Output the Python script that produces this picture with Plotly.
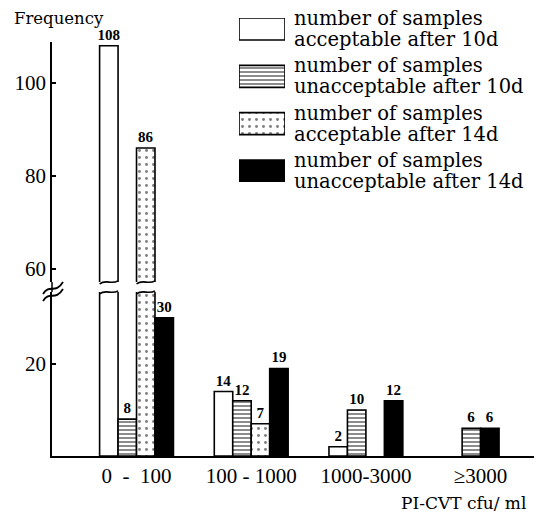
import plotly.graph_objects as go

# ---------------- data ----------------
categories = ["0 - 100", "100 - 1000", "1000-3000", "\u22653000"]
tick_labels = ["0 \u00a0-\u00a0 100", "100 - 1000", "1000-3000", "\u22653000"]
acceptable_10d = [108, 14, 2, 0]
unacceptable_10d = [8, 12, 10, 6]
acceptable_14d = [86, 7, 0, 0]
unacceptable_14d = [30, 19, 12, 6]
series_names = [
    "number of samples<br>acceptable after 10d",
    "number of samples<br>unacceptable after 10d",
    "number of samples<br>acceptable after 14d",
    "number of samples<br>unacceptable after 14d",
]
series_values = [acceptable_10d, unacceptable_10d, acceptable_14d, unacceptable_14d]
compact_categories = ["\u22653000"]  # drawn with only present bars, side by side
lower_ticks = [20]
upper_ticks = [60, 80, 100]

# ---------------- layout constants ----------------
# page has an 8px body margin; page coordinates are used in helpers below
OFF = 8
PAGE_W, PAGE_H = 542, 517
W, H = PAGE_W - OFF, PAGE_H - OFF
PLOT_L, PLOT_R, PLOT_T, PLOT_B = 52, 540, 18, 456  # page pixels
ML, MR, MT = PLOT_L - OFF, PAGE_W - PLOT_R, PLOT_T - OFF
MB = H - (PLOT_B - OFF)
PW, PH = PLOT_R - PLOT_L, PLOT_B - PLOT_T


def px_x(p):
    return (p - PLOT_L) / PW


def px_y(p):
    return (PLOT_B - p) / PH


LOW_RANGE = [0, 35.6]
UP_RANGE = [57.2, 108.8]
XMIN, XMAX = -0.737, 3.518
BAR_W = 0.161
LOW_DOMAIN = [0, px_y(292)]
UP_DOMAIN = [px_y(282), px_y(42)]

SERIF = "Liberation Serif, Times New Roman, serif"
LEG_FONT = "DejaVu Serif, serif"

markers = [
    dict(color="white", line=dict(color="black", width=1.6)),
    dict(color="white", line=dict(color="black", width=1.6),
         pattern=dict(shape="-", fgcolor="black", bgcolor="white", size=4, solidity=0.45)),
    dict(color="white", line=dict(color="black", width=1.6),
         pattern=dict(shape=".", fgcolor="black", bgcolor="white", size=7, solidity=0.14)),
    dict(color="black", line=dict(color="black", width=1.6)),
]

# offsets for each bar
offsets = [[0.0] * len(categories) for _ in series_values]
for i, cat in enumerate(categories):
    if cat in compact_categories:
        present = [k for k, vals in enumerate(series_values) if vals[i] > 0]
        for j, k in enumerate(present):
            offsets[k][i] = -len(present) * BAR_W / 2 + j * BAR_W
    else:
        n = len(series_values)
        for k in range(n):
            offsets[k][i] = -n * BAR_W / 2 + k * BAR_W

fig = go.Figure()
txtfont = dict(family=SERIF, size=15, color="black", weight="bold")
for k, vals in enumerate(series_values):
    low_y = [v if v > 0 else None for v in vals]
    low_t = [str(v) if 0 < v <= LOW_RANGE[1] else "" for v in vals]
    up_y = [v if v > LOW_RANGE[1] else None for v in vals]
    up_t = [str(v) if v > LOW_RANGE[1] else "" for v in vals]
    fig.add_trace(go.Bar(x=categories, y=low_y, width=BAR_W, offset=offsets[k],
                         marker=markers[k], text=low_t, textposition="outside",
                         textfont=txtfont, constraintext="none", cliponaxis=False,
                         xaxis="x", yaxis="y", showlegend=False, name=series_names[k]))
    fig.add_trace(go.Bar(x=categories, y=up_y, width=BAR_W, offset=offsets[k],
                         marker=markers[k], text=up_t, textposition="outside",
                         textfont=txtfont, constraintext="none", cliponaxis=False,
                         xaxis="x", yaxis="y2", showlegend=False, name=series_names[k]))

# ---------------- custom legend (swatches + text) ----------------
LEG_X = [px_x(239), px_x(285)]
LEG_Y = [px_y(182), px_y(18)]
LEG_BAR_H = 0.465
for k in range(len(series_values)):
    fig.add_trace(go.Bar(x=[1], y=[k], orientation="h", width=LEG_BAR_H,
                         marker=markers[k], xaxis="x2", yaxis="y3",
                         showlegend=False, hoverinfo="skip", name=series_names[k]))

leg_lo, leg_hi = len(series_values) - 1 + LEG_BAR_H / 2, -LEG_BAR_H / 2
annotations = []
for k, name in enumerate(series_names):
    frac = (k - leg_hi) / (leg_lo - leg_hi)
    yc_px = 18 + frac * (182 - 18)
    for j, line in enumerate(name.split("<br>")):
        annotations.append(dict(x=px_x(292), y=px_y(yc_px + (-10.5 if j == 0 else 10.5)),
                                xref="paper", yref="paper", xanchor="left", yanchor="middle",
                                text=line, showarrow=False,
                                font=dict(family=LEG_FONT, size=19.5, color="black")))

annotations.append(dict(x=px_x(13), y=px_y(OFF), xref="paper", yref="paper",
                        xanchor="left", yanchor="top", text="Frequency", showarrow=False,
                        borderpad=0,
                        font=dict(family=LEG_FONT, size=16.5, color="black")))
annotations.append(dict(x=px_x(528), y=px_y(503), xref="paper", yref="paper",
                        xanchor="right", yanchor="middle", text="PI-CVT cfu/ ml",
                        showarrow=False, font=dict(family=LEG_FONT, size=17, color="black")))

# ---------------- break decorations ----------------
def xp(v):
    return (v - XMIN) / (XMAX - XMIN)


shapes = []
shapes.append(dict(type="line", xref="paper", yref="paper", x0=0, x1=0,
                   y0=LOW_DOMAIN[1], y1=UP_DOMAIN[0], line=dict(color="black", width=1.5)))


def pxpath(pts):
    s = "M {:.5f},{:.5f}".format(px_x(pts[0][0]), px_y(pts[0][1]))
    s += " C " + " ".join("{:.5f},{:.5f}".format(px_x(a), px_y(b)) for a, b in pts[1:])
    return s


for dy in (0, 7):
    shapes.append(dict(type="path", xref="paper", yref="paper",
                       path=pxpath([(43, 301 - dy), (50, 290 - dy), (55, 302 - dy), (63, 289 - dy)]),
                       line=dict(color="black", width=1.8)))

for k, vals in enumerate(series_values):
    for i, v in enumerate(vals):
        if v > LOW_RANGE[1]:
            x0 = xp(i + offsets[k][i])
            x1 = xp(i + offsets[k][i] + BAR_W)
            xm1 = x0 + (x1 - x0) * 0.35
            xm2 = x0 + (x1 - x0) * 0.65
            for yv in (LOW_DOMAIN[1], UP_DOMAIN[0]):
                d = 3.0 / PH
                path = "M {:.5f},{:.5f} C {:.5f},{:.5f} {:.5f},{:.5f} {:.5f},{:.5f}".format(
                    x0, yv - d * 0.6, xm1, yv + d, xm2, yv - d, x1, yv + d * 0.4)
                shapes.append(dict(type="path", xref="paper", yref="paper", path=path,
                                   line=dict(color="black", width=1.6)))

axis_common = dict(showline=True, linecolor="black", linewidth=1.6, showgrid=False,
                   zeroline=False, ticks="inside", ticklen=4, tickwidth=2, tickcolor="black",
                   tickfont=dict(family=SERIF, size=21, color="black"), anchor="x", fixedrange=True)

fig.update_layout(
    width=W, height=H,
    margin=dict(l=ML, r=MR, t=MT, b=MB, pad=0),
    paper_bgcolor="white", plot_bgcolor="white",
    barmode="overlay", showlegend=False,
    xaxis=dict(type="category", range=[XMIN, XMAX], showline=True, linecolor="black",
               linewidth=1.6, showgrid=False, zeroline=False, ticks="",
               tickvals=categories, ticktext=tick_labels,
               tickfont=dict(family=SERIF, size=21, color="black"), anchor="y",
               domain=[0, 1], fixedrange=True),
    yaxis=dict(range=LOW_RANGE, domain=LOW_DOMAIN, tickvals=lower_ticks, **axis_common),
    yaxis2=dict(range=UP_RANGE, domain=UP_DOMAIN, tickvals=upper_ticks, **axis_common),
    xaxis2=dict(range=[0, 1], domain=LEG_X, visible=False, anchor="y3", fixedrange=True),
    yaxis3=dict(range=[leg_lo, leg_hi], domain=LEG_Y, visible=False, anchor="x2", fixedrange=True),
    annotations=annotations,
    shapes=shapes,
)

fig.write_html("out.html")
